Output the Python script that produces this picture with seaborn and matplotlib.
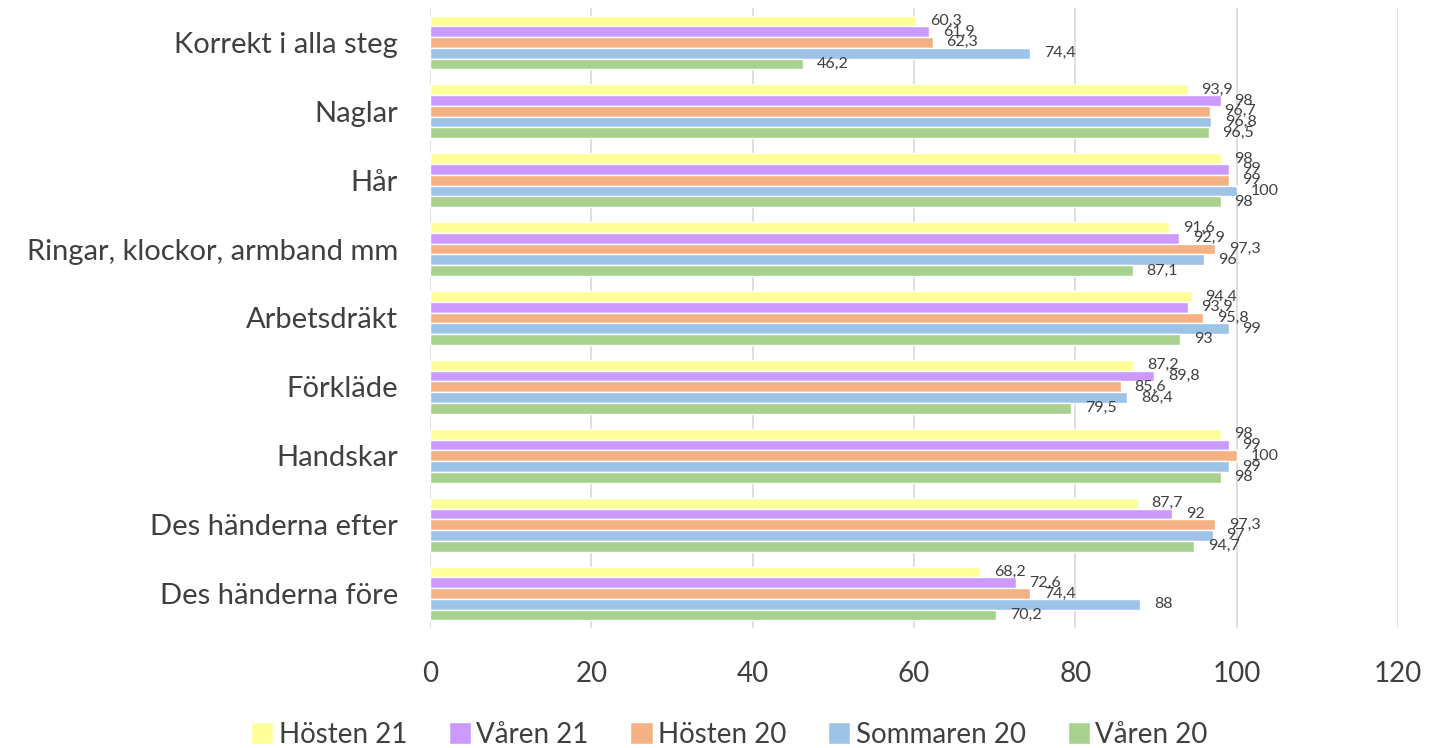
import matplotlib
matplotlib.use("Agg")
import matplotlib.pyplot as plt
import seaborn as sbn
import pandas as pd

# donnees
kategorier = ["Korrekt i alla steg", "Naglar", "Hår", "Ringar, klockor, armband mm",
              "Arbetsdräkt", "Förkläde", "Handskar", "Des händerna efter", "Des händerna före"]
serier = ["Hösten 21", "Våren 21", "Hösten 20", "Sommaren 20", "Våren 20"]
hosten21 = [60.3, 93.9, 98, 91.6, 94.4, 87.2, 98, 87.7, 68.2]
varen21 = [61.9, 98, 99, 92.9, 93.9, 89.8, 99, 92, 72.6]
hosten20 = [62.3, 96.7, 99, 97.3, 95.8, 85.6, 100, 97.3, 74.4]
sommaren20 = [74.4, 96.8, 100, 96, 99, 86.4, 99, 97, 88]
varen20 = [46.2, 96.5, 98, 87.1, 93, 79.5, 98, 94.7, 70.2]
x_ticks = [0, 20, 40, 60, 80, 100, 120]

farger = ["#FFFF99", "#CC99FF", "#F4B183", "#9DC3E6", "#A9D18E"]

varden = [hosten21, varen21, hosten20, sommaren20, varen20]
rows = []
for s, vals in zip(serier, varden):
    for k, v in zip(kategorier, vals):
        rows.append({"kategori": k, "serie": s, "varde": v})
df = pd.DataFrame(rows)

sbn.set_style("white")
plt.rcParams['font.family'] = ['Lato', 'DejaVu Sans']

fig = plt.figure(figsize=(14.3, 7.48), dpi=100)
ax = fig.add_axes([0.3007, 0.1604, 0.677, 0.829])

sbn.barplot(data=df, y="kategori", x="varde", hue="serie", order=kategorier,
            hue_order=serier, palette=farger, orient="h", width=0.78,
            saturation=1, ax=ax, legend=True)

for cont, vals in zip(ax.containers, varden):
    ax.bar_label(cont, labels=[f"{v:g}".replace(".", ",") for v in vals],
                 padding=10, fontsize=11.5, color="#404040")

ax.set_xlim(0, 120)
ax.set_xticks(x_ticks)
ax.grid(axis="x", color="#D9D9D9", linewidth=1.2)
ax.set_axisbelow(True)
for sp in ax.spines.values():
    sp.set_visible(False)
ax.set_xlabel("")
ax.set_ylabel("")
ax.tick_params(axis="x", labelsize=20, colors="#404040", length=0, pad=24)
ax.tick_params(axis="y", labelsize=21, colors="#404040", length=0, pad=23)

handles, labels = ax.get_legend_handles_labels()
ax.get_legend().remove()
fig.legend(handles, labels, loc="lower center", bbox_to_anchor=(0.51, -0.033), ncol=5,
           frameon=False, fontsize=20, handlelength=0.8, handleheight=0.8,
           handletextpad=0.2, columnspacing=1.5, labelcolor="#404040")

fig.savefig("out.png", dpi=100)
